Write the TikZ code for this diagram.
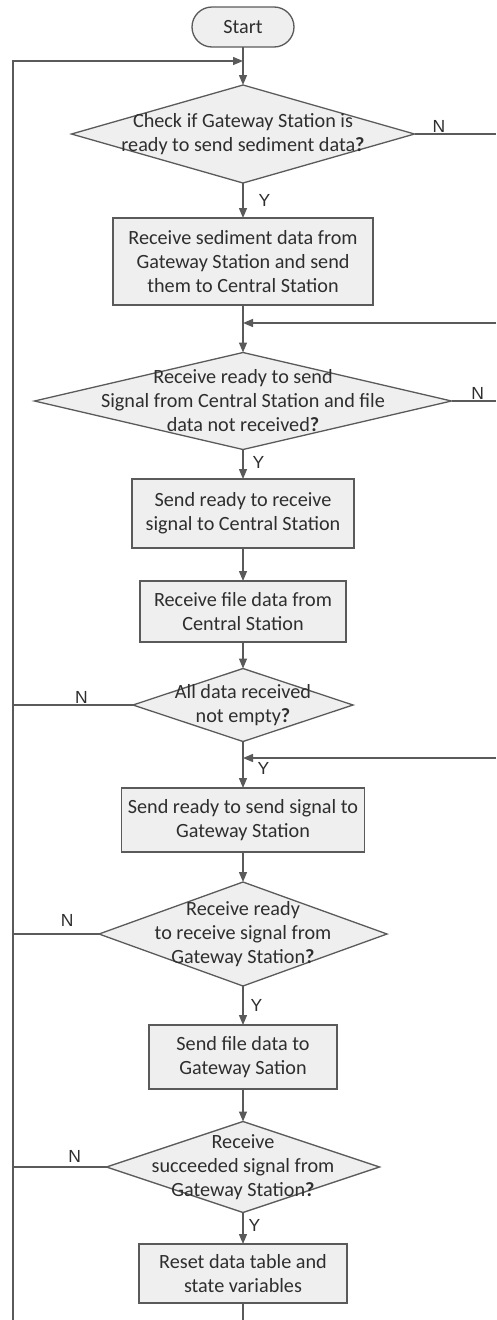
\documentclass[tikz,border=0pt]{standalone}
\usepackage{fontspec}
\setmainfont{Carlito}
\newfontfamily\labelfont{Liberation Sans}
\usetikzlibrary{shapes.geometric,arrows.meta}
\definecolor{edgegray}{HTML}{5A5A5A}
\definecolor{fillgray}{HTML}{EFEFEF}
\definecolor{inkgray}{HTML}{2E2E2E}
\begin{document}
\begin{tikzpicture}[x=1pt,y=-1pt,
  every node/.style={text=inkgray},
  flowtext/.style={align=center,font=\fontsize{20.2}{24}\selectfont,inner sep=0},
  procbox/.style={draw=edgegray,line width=1.3pt,fill=fillgray,outer sep=0,inner sep=0},
  decision/.style={diamond,draw=edgegray,line width=1.3pt,fill=fillgray,outer sep=0,inner sep=0},
  terminal/.style={draw=edgegray,line width=1.3pt,fill=fillgray,rounded corners=20pt,outer sep=0,inner sep=0},
  flow/.style={draw=edgegray,line width=1.3pt},
  arrowflow/.style={flow,-{Triangle[length=10pt,width=8pt]}},
  branchlabel/.style={font=\labelfont\fontsize{17.5}{20}\selectfont,inner sep=1pt},
  yeslabel/.style={branchlabel,anchor=west,xshift=6pt},
  nolabel/.style={branchlabel,fill=white,anchor=south}
]
\useasboundingbox (0,0) rectangle (496,1320);

% start terminal
\node[terminal,minimum width=102pt,minimum height=40pt] (start) at (243,27) {};
\node[flowtext] (startt) at (start) {Start};

% decisions (outline and text kept separate so text may cross the outline)
\node[decision,minimum width=343pt,minimum height=98pt] (d1) at (243,134) {};
\node[flowtext] (d1t) at (d1) {Check if Gateway Station is\\ready to send sediment data\textbf{?}};

\node[decision,minimum width=417pt,minimum height=97pt] (d2) at (243,401) {};
\node[flowtext] (d2t) at (d2) {Receive ready to send\\Signal from Central Station and file\\data not received\textbf{?}};

\node[decision,minimum width=220pt,minimum height=73pt] (d3) at (243,705) {};
\node[flowtext] (d3t) at (d3) {All data received\\not empty\textbf{?}};

\node[decision,minimum width=288pt,minimum height=104pt] (d4) at (243,934) {};
\node[flowtext] (d4t) at (d4) {Receive ready\\to receive signal from\\Gateway Station\textbf{?}};

\node[decision,minimum width=273pt,minimum height=91pt] (d5) at (243,1167) {};
\node[flowtext] (d5t) at (d5) {Receive\\succeeded signal from\\Gateway Station\textbf{?}};

% process boxes
\node[procbox,minimum width=260pt,minimum height=87pt] (b1) at (243,261.5) {};
\node[flowtext] (b1t) at (b1) {Receive sediment data from\\Gateway Station and send\\them to Central Station};

\node[procbox,minimum width=222pt,minimum height=69pt] (b2) at (243,513.5) {};
\node[flowtext] (b2t) at (b2) {Send ready to receive\\signal to Central Station};

\node[procbox,minimum width=206pt,minimum height=61pt] (b3) at (243,611.5) {};
\node[flowtext] (b3t) at (b3) {Receive file data from\\Central Station};

\node[procbox,minimum width=243pt,minimum height=64pt] (b4) at (243,820) {};
\node[flowtext] (b4t) at (b4) {Send ready to send signal to\\Gateway Station};

\node[procbox,minimum width=188pt,minimum height=64pt] (b5) at (243,1057) {};
\node[flowtext] (b5t) at (b5) {Send file data to\\Gateway Sation};

\node[procbox,minimum width=208pt,minimum height=59pt] (b6) at (243,1273.5) {};
\node[flowtext] (b6t) at (b6) {Reset data table and\\state variables};

% loop and junction points
\coordinate (loopbottom) at (13,1320);
\coordinate (looptop) at (13,61);
\coordinate (jtop) at (243,61);
\coordinate (mainbottom) at (243,1320);
\coordinate (j2) at (243,323);
\coordinate (j4) at (243,758);
\coordinate (r1) at (496,134);
\coordinate (r2) at (496,401);
\coordinate (rin2) at (496,323);
\coordinate (rin4) at (496,758);

% main path
\draw[arrowflow] (start) -- (d1);
\draw[arrowflow] (d1) -- node[yeslabel,pos=0.5,xshift=8pt] (y1) {Y} (b1);
\draw[arrowflow] (d2) -- node[yeslabel,pos=0.45,xshift=2pt] (y2) {Y} (b2);
\draw[arrowflow] (b1) -- (d2);
\draw[arrowflow] (b2) -- (b3);
\draw[arrowflow] (b3) -- (d3);
\draw[arrowflow] (d3) -- node[yeslabel,pos=0.59,xshift=7pt] (y3) {Y} (b4);
\draw[arrowflow] (b4) -- (d4);
\draw[arrowflow] (d4) -- node[yeslabel,pos=0.49] (y4) {Y} (b5);
\draw[arrowflow] (b5) -- (d5);
\draw[arrowflow] (d5) -- node[yeslabel,pos=0.4,xshift=-2pt] (y5) {Y} (b6);
\draw[flow] (b6) -- (mainbottom);

% return loop on the left
\draw[arrowflow] (loopbottom) -- (looptop) -- (jtop);

% "N" branches to the left loop
\draw[flow] (d3.west) -- node[nolabel,pos=0.43] (n3) {N} (d3.west -| looptop);
\draw[flow] (d4.west) -- node[nolabel,pos=0.37,yshift=6pt] (n4) {N} (d4.west -| looptop);
\draw[flow] (d5.west) -- node[nolabel,pos=0.34,yshift=3pt] (n5) {N} (d5.west -| looptop);

% "N" branches leaving to the right
\draw[flow] (d1.east) -- node[nolabel,pos=0.3] (n1) {N} (r1);
\draw[flow] (d2.east) -- node[nolabel,pos=0.59] (n2) {N} (r2);

% returns entering from the right
\draw[arrowflow] (rin2) -- (j2);
\draw[arrowflow] (rin4) -- (j4);
\end{tikzpicture}
\end{document}
